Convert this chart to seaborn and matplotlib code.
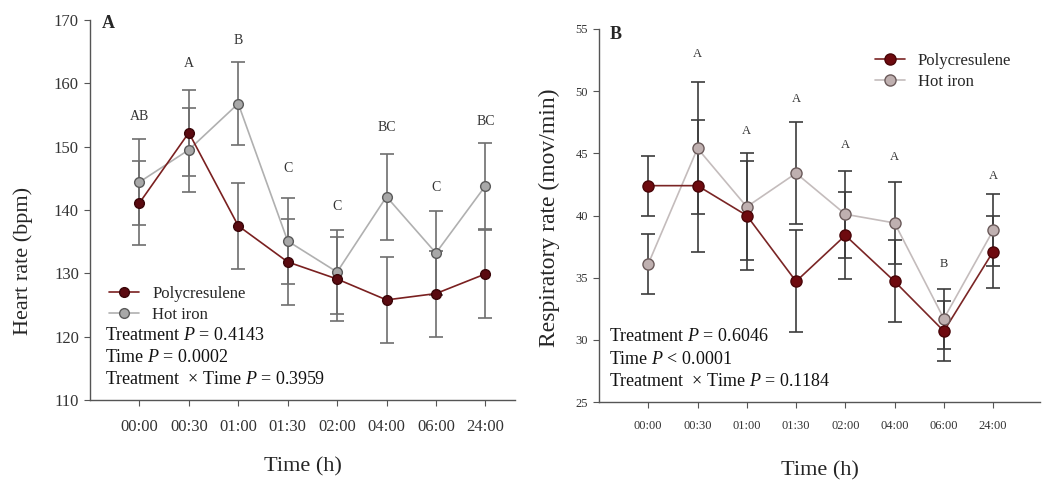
import numpy as np
import pandas as pd
import matplotlib
matplotlib.use("Agg")
import matplotlib.pyplot as plt
from matplotlib.lines import Line2D
import seaborn as sns

times = ["00:00", "00:30", "01:00", "01:30", "02:00", "04:00", "06:00", "24:00"]

hr_poly = [141.1, 152.2, 137.5, 131.8, 129.1, 125.8, 126.8, 129.9]
hr_poly_err = [6.6, 6.8, 6.8, 6.8, 6.7, 6.8, 6.8, 6.9]
hr_iron = [144.4, 149.5, 156.8, 135.1, 130.2, 142.1, 133.2, 143.8]
hr_iron_err = [6.8, 6.6, 6.6, 6.8, 6.7, 6.8, 6.7, 6.8]
hr_letters = ["AB", "A", "B", "C", "C", "BC", "C", "BC"]
hr_letter_y = [154.7, 163.2, 166.7, 146.5, 140.5, 153.0, 143.5, 154.0]

rr_poly = [42.4, 42.4, 40.0, 34.7, 38.4, 34.7, 30.7, 37.1]
rr_poly_err = [2.4, 5.3, 4.4, 4.1, 3.5, 3.3, 2.4, 2.9]
rr_iron = [36.1, 45.4, 40.7, 43.4, 40.1, 39.4, 31.7, 38.8]
rr_iron_err = [2.45, 5.3, 4.3, 4.1, 3.5, 3.3, 2.4, 2.9]
rr_letters = ["", "A", "A", "A", "A", "A", "B", "A"]
rr_letter_y = [0, 53.0, 46.8, 49.4, 45.7, 44.7, 36.1, 43.2]

treatments = ["Polycresulene", "Hot iron"]

sns.set_style("ticks")
plt.rcParams["font.family"] = ["Liberation Serif", "DejaVu Serif"]
plt.rcParams["mathtext.fontset"] = "custom"
plt.rcParams["mathtext.rm"] = "Liberation Serif"
plt.rcParams["mathtext.it"] = "Liberation Serif:italic"

fig = plt.figure(figsize=(10.56, 4.84), dpi=100)
axA = fig.add_axes([0.0852, 0.1736, 0.4025, 0.7851])
axB = fig.add_axes([0.5672, 0.1694, 0.4176, 0.7707])

pos = np.arange(len(times))


def panel(ax, poly, perr, iron, ierr, letters, ly, ylim, yticks, cfg):
    df = pd.DataFrame({
        "pos": np.concatenate([pos, pos]),
        "value": poly + iron,
        "Treatment": [treatments[0]] * len(pos) + [treatments[1]] * len(pos),
    })
    ax.errorbar(pos, iron, yerr=ierr, fmt="none", ecolor=cfg["ecol"], elinewidth=1.2,
                capsize=cfg["cap"], capthick=1.2, zorder=1)
    ax.errorbar(pos, poly, yerr=perr, fmt="none", ecolor=cfg["ecol"], elinewidth=1.2,
                capsize=cfg["cap"], capthick=1.2, zorder=1)
    sns.lineplot(data=df, x="pos", y="value", hue="Treatment", hue_order=treatments[::-1],
                 palette={treatments[0]: cfg["pline"], treatments[1]: cfg["iline"]},
                 ax=ax, legend=False, linewidth=1.2, zorder=2)
    ax.plot(pos, iron, ls="none", marker="o", ms=cfg["ms"], mfc=cfg["imfc"], mec=cfg["imec"],
            mew=1.0, zorder=3)
    ax.plot(pos, poly, ls="none", marker="o", ms=cfg["ms"], mfc=cfg["pmfc"], mec=cfg["pmec"],
            mew=1.0, zorder=4)
    for x, t, y in zip(pos, letters, ly):
        if t:
            ax.text(x, y, t, ha="center", va="center", fontsize=cfg["lfs"], color="#333333")
    ax.set_xlim(*cfg["xlim"])
    ax.set_ylim(*ylim)
    ax.set_yticks(yticks)
    ax.set_xticks(pos)
    ax.set_xticklabels(times)
    ax.set_xlabel("Time (h)", fontsize=16, labelpad=cfg["xlpad"])
    ax.set_ylabel(cfg["ylabel"], fontsize=cfg["ylfs"])
    ax.yaxis.set_label_coords(*cfg["ylcoords"])
    for s in ["top", "right"]:
        ax.spines[s].set_visible(False)
    for s in ["left", "bottom"]:
        ax.spines[s].set_color("#555555")
        ax.spines[s].set_linewidth(1.0)
    ax.tick_params(axis="y", labelsize=cfg["yfs"], length=4, color="#555555",
                   labelcolor="#333333", pad=4)
    ax.tick_params(axis="x", labelsize=cfg["xfs"], length=4, color="#555555",
                   labelcolor="#333333", pad=cfg["xpad"])
    h = [Line2D([], [], color=cfg["pline"], marker="o", ms=cfg["ms"], mfc=cfg["pmfc"],
                mec=cfg["pmec"], lw=1.2),
         Line2D([], [], color=cfg["iline"], marker="o", ms=cfg["ms"], mfc=cfg["imfc"],
                mec=cfg["imec"], lw=1.2)]
    ax.legend(h, treatments, loc="upper left", bbox_to_anchor=cfg["legpos"], frameon=False,
              fontsize=12, handlelength=1.8, handletextpad=0.8, labelspacing=0.3,
              borderpad=0, borderaxespad=0)
    for i, line in enumerate(cfg["stats"]):
        ax.text(cfg["spos"][0], cfg["spos"][1] - i * cfg["sgap"], line, transform=ax.transAxes,
                fontsize=13, ha="left", va="center", color="#111111")
    ax.text(cfg["ppos"][0], cfg["ppos"][1], cfg["panel"], transform=ax.transAxes,
            fontsize=13, fontweight="bold", ha="left", va="center")


cfgA = dict(ecol="#6e6e6e", cap=5, pline="#7a2020", iline="#b0b0b0", ms=7,
            pmfc="#5a0a10", pmec="#3a0508", imfc="#a8a8a8", imec="#5a5a5a", lfs=10,
            xlim=(-1.0, 7.6), xlpad=16, ylabel="Heart rate (bpm)", ylfs=16,
            ylcoords=(-0.134, 0.366), yfs=12,
            xfs=12, xpad=10, legpos=(0.045, 0.30),
            stats=["Treatment $P$ = 0.4143", "Time $P$ = 0.0002",
                   "Treatment  × Time $P$ = 0.3959"],
            spos=(0.035, 0.17), sgap=0.058, ppos=(0.028, 0.99), panel="A")
cfgB = dict(ecol="#3c3c3c", cap=5, pline="#7a2525", iline="#c4bcbc", ms=8,
            pmfc="#6e0a0f", pmec="#4a0508", imfc="#bfb0b0", imec="#6a5a5a", lfs=9,
            xlim=(-1.0, 7.95), xlpad=21, ylabel="Respiratory rate (mov/min)", ylfs=17,
            ylcoords=(-0.088, 0.493), yfs=9,
            xfs=9, xpad=9, legpos=(0.625, 0.935),
            stats=["Treatment $P$ = 0.6046", "Time $P$ < 0.0001",
                   "Treatment  × Time $P$ = 0.1184"],
            spos=(0.022, 0.175), sgap=0.060, ppos=(0.025, 0.985), panel="B")

panel(axA, hr_poly, hr_poly_err, hr_iron, hr_iron_err, hr_letters, hr_letter_y,
      (110, 170), [110, 120, 130, 140, 150, 160, 170], cfgA)
panel(axB, rr_poly, rr_poly_err, rr_iron, rr_iron_err, rr_letters, rr_letter_y,
      (25, 55), [25, 30, 35, 40, 45, 50, 55], cfgB)

fig.savefig("out.png", dpi=100)
